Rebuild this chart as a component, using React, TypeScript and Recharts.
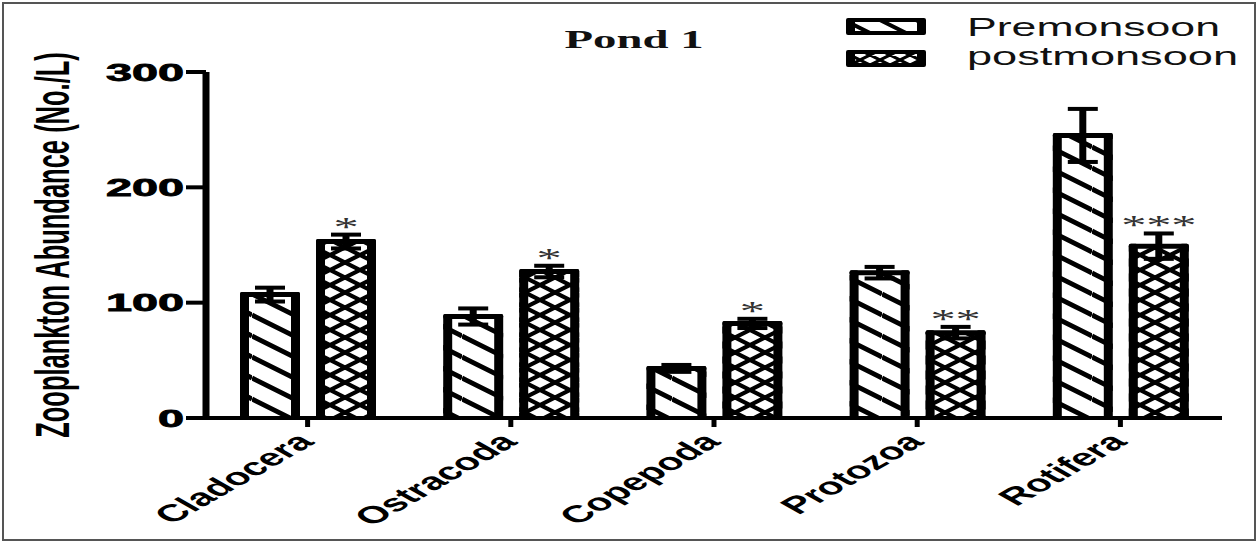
import React from 'react';
import { BarChart, Bar, XAxis, YAxis, ErrorBar, LabelList, Legend } from 'recharts';

const categories = ['Cladocera', 'Ostracoda', 'Copepoda', 'Protozoa', 'Rotifera'];
const premonsoon = [107, 88, 43, 126, 245];
const premonsoonErr = [6, 7, 3, 5, 23];
const postmonsoon = [153, 127, 82, 74, 149];
const postmonsoonErr = [6, 5, 4, 5, 11];
const significance = ['*', '*', '*', '**', '***'];
const seriesNames = ['Premonsoon', 'postmonsoon'];
const yTicks = [0, 100, 200, 300];
const chartTitle = 'Pond 1';
const yAxisTitle = 'Zooplankton Abundance (No./L)';

const data = categories.map((c, i) => ({
  category: c,
  pre: premonsoon[i],
  preErr: premonsoonErr[i],
  post: postmonsoon[i],
  postErr: postmonsoonErr[i],
  sigGap: postmonsoonErr[i],
  sig: significance[i],
}));

const SANS = '"Liberation Sans", Arial, sans-serif';
const SERIF = '"Liberation Serif", "Times New Roman", serif';

const HatchBar = (props: any) => {
  const { x, y, width, height, fill } = props;
  if (x == null || y == null || !width || !height || height <= 0) return null;
  const t = y - 2.5;
  const h = height + 2.5;
  return (
    <g>
      <rect x={x} y={y} width={width} height={height} fill={fill} />
      <rect x={x} y={t} width={9} height={h} rx={2} fill="#000" />
      <rect x={x + width - 9} y={t} width={9} height={h} rx={2} fill="#000" />
      <rect x={x} y={t} width={width} height={5} rx={2} fill="#000" />
    </g>
  );
};

const StarLabel = (props: any) => {
  const vb = props.viewBox || props;
  const x = vb.x ?? props.x;
  const y = vb.y ?? props.y;
  const width = vb.width ?? props.width;
  const n = String(props.value ?? '').length;
  if (x == null || y == null || !n) return null;
  const cx = x + width / 2;
  const items = [];
  for (let i = 0; i < n; i++) {
    const sx = cx + (i - (n - 1) / 2) * 25;
    items.push(
      <text
        key={i}
        transform={`translate(${sx}, ${y + 1}) scale(1.8,1)`}
        textAnchor="middle"
        fontFamily={SERIF}
        fontSize={28}
        fill="#333"
      >
        *
      </text>
    );
  }
  return <g>{items}</g>;
};

const YTick = (props: any) => {
  const { x, y, payload } = props;
  return (
    <text
      transform={`translate(${x}, ${y + 8.5}) scale(1.95,1)`}
      textAnchor="end"
      fontFamily={SANS}
      fontWeight="bold"
      fontSize={24}
      fill="#000"
      stroke="#000"
      strokeWidth={0.8}
    >
      {payload.value}
    </text>
  );
};

const CatTick = (props: any) => {
  const { x, payload } = props;
  return (
    <text
      transform={`translate(${x + 8}, 443) scale(1.75,1) rotate(-45)`}
      textAnchor="end"
      fontFamily={SANS}
      fontWeight="bold"
      fontSize={24}
      fill="#000"
    >
      {payload.value}
    </text>
  );
};

const LegendContent = () => (
  <svg width={420} height={80} style={{ display: 'block' }}>
    <defs>
      <pattern id="lgPre" patternUnits="userSpaceOnUse" width={36} height={18}>
        <rect width={36} height={18} fill="#fff" />
        <path d="M0,-18 L36,0 M0,0 L36,18 M0,18 L36,36" stroke="#000" strokeWidth={4} />
      </pattern>
      <pattern id="lgPost" patternUnits="userSpaceOnUse" width={20} height={10}>
        <rect width={20} height={10} fill="#fff" />
        <path d="M0,0 L20,10 M0,-10 L20,0 M0,10 L20,20 M0,10 L20,0 M0,0 L20,-10 M0,20 L20,10" stroke="#000" strokeWidth={3} />
      </pattern>
    </defs>
    {seriesNames.map((name, i) => {
      const sy = i === 0 ? 18 : 50;
      const ty = i === 0 ? 36 : 65;
      return (
        <g key={name}>
          <rect x={6} y={sy} width={80} height={17} rx={2} fill="#000" />
          <rect x={15} y={sy + 4} width={62} height={9} fill={i === 0 ? 'url(#lgPre)' : 'url(#lgPost)'} />
          <text
            x={127}
            y={ty}
            fontFamily={SANS}
            fontSize={26}
            fill="#111"
            textLength={i === 0 ? 253 : 271}
            lengthAdjust="spacingAndGlyphs"
          >
            {name}
          </text>
        </g>
      );
    })}
  </svg>
);

export default function App() {
  return (
    <div style={{ position: 'absolute', left: 0, top: 0, width: 1260, height: 544, background: '#fff', overflow: 'hidden' }}>
      <div
        style={{
          position: 'absolute',
          left: 2,
          top: 2,
          width: 1254,
          height: 539,
          border: '2px solid #555',
          boxSizing: 'border-box',
        }}
      />
      <BarChart
        width={1260}
        height={544}
        data={data}
        margin={{ top: 72, right: 38, left: 0, bottom: 0 }}
        barSize={60}
        barGap={16}
      >
        <defs>
          <pattern id="hatchPre" patternUnits="userSpaceOnUse" width={42} height={21}>
            <rect width={42} height={21} fill="#fff" />
            <path d="M0,-21 L42,0 M0,0 L42,21 M0,21 L42,42" stroke="#000" strokeWidth={4.8} />
          </pattern>
          <pattern id="hatchPost" patternUnits="userSpaceOnUse" width={30} height={15}>
            <rect width={30} height={15} fill="#fff" />
            <path
              d="M0,0 L30,15 M0,-15 L30,0 M0,15 L30,30 M0,15 L30,0 M0,0 L30,-15 M0,30 L30,15"
              stroke="#000"
              strokeWidth={4.2}
            />
          </pattern>
        </defs>
        <XAxis
          dataKey="category"
          height={126}
          interval={0}
          axisLine={{ stroke: '#000', strokeWidth: 4 }}
          tickLine={{ stroke: '#000', strokeWidth: 5 }}
          tickSize={9}
          tick={<CatTick />}
        />
        <YAxis
          width={206}
          domain={[0, 300]}
          ticks={yTicks}
          interval={0}
          axisLine={{ stroke: '#000', strokeWidth: 7 }}
          tickLine={{ stroke: '#000', strokeWidth: 4 }}
          tickSize={20}
          tickMargin={2}
          tick={<YTick />}
        />
        <Bar dataKey="pre" name={seriesNames[0]} stackId="pre" fill="url(#hatchPre)" shape={<HatchBar />} isAnimationActive={false}>
          <ErrorBar dataKey="preErr" width={0} strokeWidth={7} stroke="#000" />
          <ErrorBar dataKey="preErr" width={15} strokeWidth={4} stroke="#000" />
        </Bar>
        <Bar dataKey="post" name={seriesNames[1]} stackId="post" fill="url(#hatchPost)" shape={<HatchBar />} isAnimationActive={false}>
          <ErrorBar dataKey="postErr" width={0} strokeWidth={7} stroke="#000" />
          <ErrorBar dataKey="postErr" width={15} strokeWidth={4} stroke="#000" />
        </Bar>
        <Bar dataKey="sigGap" stackId="post" fill="transparent" legendType="none" isAnimationActive={false}>
          <LabelList dataKey="sig" content={StarLabel} />
        </Bar>
        <Legend
          layout="vertical"
          align="center"
          verticalAlign="middle"
          content={<LegendContent />}
          wrapperStyle={{ position: 'absolute', left: 840, top: 0, width: 420, height: 80 }}
        />
        <text
          transform="translate(634, 48) scale(1.8,1)"
          textAnchor="middle"
          fontFamily={SERIF}
          fontWeight="bold"
          fontSize={26}
          fill="#111"
        >
          {chartTitle}
        </text>
        <text
          transform="translate(69, 245) scale(1.9,1) rotate(-90)"
          textAnchor="middle"
          fontFamily={SANS}
          fontWeight="bold"
          fontSize={25.5}
          fill="#000"
        >
          {yAxisTitle}
        </text>
      </BarChart>
    </div>
  );
}
